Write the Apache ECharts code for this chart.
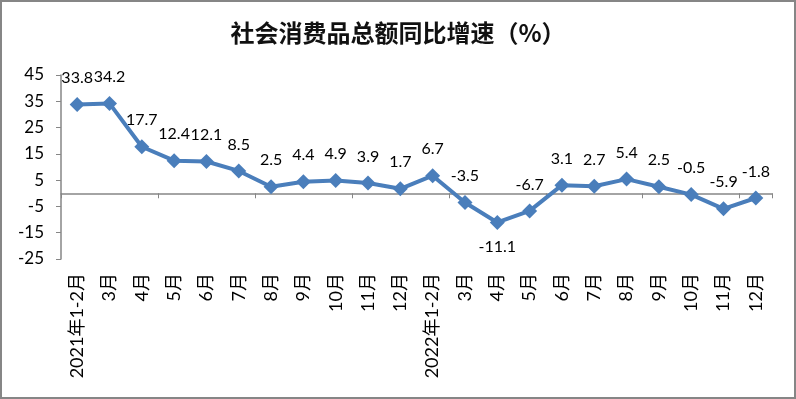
<!DOCTYPE html>
<html><head><meta charset="utf-8">
<script src="https://cdn.jsdelivr.net/npm/echarts@6/dist/echarts.min.js"></script>
<style>html,body{margin:0;padding:0;background:#fff}#c{width:796px;height:399px;box-sizing:border-box;border:2px solid #868686}</style>
</head><body><div id="c"></div>
<script>
const categories = ['2021年1-2月','3月','4月','5月','6月','7月','8月','9月','10月','11月','12月','2022年1-2月','3月','4月','5月','6月','7月','8月','9月','10月','11月','12月'];
const values = [33.8,34.2,17.7,12.4,12.1,8.5,2.5,4.4,4.9,3.9,1.7,6.7,-3.5,-11.1,-6.7,3.1,2.7,5.4,2.5,-0.5,-5.9,-1.8];
const yTicks = [-25,-15,-5,5,15,25,35,45];
const title = '社会消费品总额同比增速（%）';

const chart = echarts.init(document.getElementById('c'));
const fnt = 'Lato, "Noto Sans", "Noto Sans CJK SC", sans-serif';
chart.setOption({
  animation:false,
  title:{text:title,left:'center',top:14,textStyle:{fontFamily:'"Noto Sans CJK SC"',fontSize:24,fontWeight:'bold',color:'#111'}},
  grid:{left:59,right:22,top:73,bottom:138},
  xAxis:[{
    type:'category',data:categories,boundaryGap:true,
    axisLine:{onZero:true,lineStyle:{color:'#868686',width:1.5}},
    axisTick:{show:true,inside:false,length:5,lineStyle:{color:'#868686'}},
    axisLabel:{show:false}
  },{
    type:'category',data:categories,boundaryGap:true,position:'bottom',
    axisLine:{show:false,onZero:false},axisTick:{show:false},
    axisLabel:{rotate:90,interval:0,margin:14,fontSize:18,color:'#000',fontFamily:fnt}
  }],
  yAxis:{type:'value',min:-25,max:45,interval:10,
    axisLine:{show:true,lineStyle:{color:'#868686',width:1.5}},
    axisTick:{show:true,length:5,lineStyle:{color:'#868686'}},
    splitLine:{show:false},
    axisLabel:{fontSize:17,color:'#000',margin:17,fontFamily:fnt}
  },
  series:[{type:'line',data:values.map((v,i)=>({value:v,label:{position:v===-11.1?'bottom':'top',distance:v===-11.1?9:11}})),
    xAxisIndex:0,
    symbol:'diamond',symbolSize:15,
    lineStyle:{color:'#4a7ebb',width:4},
    itemStyle:{color:'#4a7ebb'},
    label:{show:true,fontSize:16,color:'#000',fontFamily:fnt}
  }]
});
</script></body></html>
